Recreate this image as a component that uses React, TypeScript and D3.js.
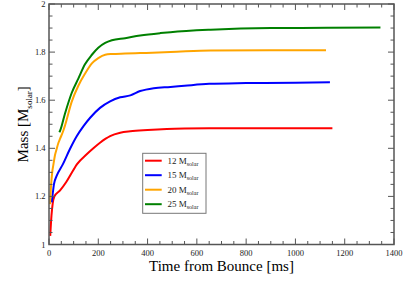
import React from "react";
import * as d3 from "d3";

const W = 416;
const H = 283;

const redT = [5, 10, 15, 22, 45, 70, 99, 113, 153, 180, 207, 230, 248, 289, 330, 400, 478, 550, 650, 800, 1000, 1150];
const redM = [1.036, 1.12, 1.17, 1.2, 1.225, 1.26, 1.31, 1.333, 1.375, 1.4, 1.423, 1.44, 1.451, 1.465, 1.471, 1.476, 1.48, 1.482, 1.483, 1.483, 1.483, 1.483];

const blueT = [11, 15, 20, 31, 56, 85, 113, 140, 167, 207, 248, 289, 330, 370, 425, 493, 550, 650, 800, 1000, 1140];
const blueM = [1.175, 1.21, 1.25, 1.285, 1.333, 1.397, 1.451, 1.492, 1.527, 1.568, 1.595, 1.612, 1.62, 1.638, 1.65, 1.655, 1.66, 1.668, 1.671, 1.673, 1.675];

const orangeT = [4, 8, 13, 18, 24, 31, 38, 45, 58, 65, 92, 119, 146, 174, 200, 228, 255, 309, 370, 493, 656, 900, 1124];
const orangeM = [1.168, 1.24, 1.3, 1.333, 1.37, 1.397, 1.422, 1.44, 1.473, 1.495, 1.593, 1.66, 1.71, 1.753, 1.775, 1.789, 1.792, 1.794, 1.796, 1.8, 1.807, 1.808, 1.808];

const greenT = [42, 45, 65, 92, 119, 146, 174, 200, 228, 255, 309, 370, 452, 493, 656, 900, 1130, 1345];
const greenM = [1.467, 1.473, 1.545, 1.63, 1.69, 1.749, 1.789, 1.818, 1.838, 1.849, 1.858, 1.869, 1.879, 1.883, 1.893, 1.9, 1.901, 1.902];

const seriesNames = ["12", "15", "20", "25"];
const seriesColors = ["#ff0000", "#0000ff", "#ffa500", "#008000"];
const seriesT = [redT, blueT, orangeT, greenT];
const seriesM = [redM, blueM, orangeM, greenM];

const xTicks = [0, 200, 400, 600, 800, 1000, 1200, 1400];
const yTicks = [1, 1.2, 1.4, 1.6, 1.8, 2];
const yTickLabels = ["1", "1.2", "1.4", "1.6", "1.8", "2"];

const L = 49, R = 394, T = 4, B = 244.5;
const FONT = "'Liberation Serif', 'Times New Roman', serif";
const AX = "#555";

export default function App() {
  const x = d3.scaleLinear().domain([0, 1400]).range([L, R]);
  const y = d3.scaleLinear().domain([1, 2]).range([B, T]);
  const line = d3
    .line<[number, number]>()
    .x((d) => x(d[0]))
    .y((d) => y(d[1]))
    .curve(d3.curveMonotoneX);

  const xMinor = d3.range(0, 1401, 50);
  const yMinor = d3.range(0, 21).map((i) => 1 + i * 0.05);

  return (
    <svg
      width={W}
      height={H}
      style={{ position: "absolute", left: 0, top: 0, background: "#fff" }}
      fontFamily={FONT}
    >
      <rect x={0} y={0} width={W} height={H} fill="#fff" />
      {seriesT.map((ts, i) => (
        <path
          key={i}
          d={line(ts.map((t, j) => [t, seriesM[i][j]] as [number, number])) || ""}
          fill="none"
          stroke={seriesColors[i]}
          strokeWidth={2}
          strokeLinejoin="round"
        />
      ))}
      {xMinor.map((v) => {
        const major = v % 200 === 0;
        const len = major ? 6 : 3.5;
        return (
          <g key={"xm" + v} stroke={AX} strokeWidth={1}>
            <line x1={x(v)} x2={x(v)} y1={B} y2={B - len} />
            <line x1={x(v)} x2={x(v)} y1={T} y2={T + len} />
          </g>
        );
      })}
      {yMinor.map((v, i) => {
        const major = i % 4 === 0;
        const len = major ? 6 : 3.5;
        return (
          <g key={"ym" + i} stroke={AX} strokeWidth={1}>
            <line x1={L} x2={L + len} y1={y(v)} y2={y(v)} />
            <line x1={R} x2={R - len} y1={y(v)} y2={y(v)} />
          </g>
        );
      })}
      <rect x={L} y={T} width={R - L} height={B - T} fill="none" stroke={AX} strokeWidth={1.5} />
      {xTicks.map((v) => (
        <text key={"xt" + v} x={x(v)} y={256} fontSize={8.5} textAnchor="middle" fill="#222">
          {v}
        </text>
      ))}
      {yTicks.map((v, i) => (
        <text key={"yt" + v} x={45.5} y={y(v) + 3} fontSize={8.5} textAnchor="end" fill="#222">
          {yTickLabels[i]}
        </text>
      ))}
      <text x={(L + R) / 2} y={271} fontSize={15} textAnchor="middle" fill="#000">
        Time from Bounce [ms]
      </text>
      <text
        transform={`translate(28,${(T + B) / 2}) rotate(-90)`}
        fontSize={15}
        textAnchor="middle"
        fill="#000"
      >
        Mass [M
        <tspan fontSize={9} dy={4}>solar</tspan>
        <tspan dy={-4}>]</tspan>
      </text>
      <rect x={142.7} y={153.3} width={63.3} height={60} fill="#fff" stroke="#777" strokeWidth={1} />
      {seriesNames.map((n, i) => {
        const yy = 160.7 + i * 14.5;
        return (
          <g key={"lg" + i}>
            <line x1={145} x2={161.7} y1={yy} y2={yy} stroke={seriesColors[i]} strokeWidth={2} />
            <text x={167.5} y={yy + 3} fontSize={9} fill="#222">
              {n} M
              <tspan fontSize={6} dy={2}>solar</tspan>
            </text>
          </g>
        );
      })}
    </svg>
  );
}
